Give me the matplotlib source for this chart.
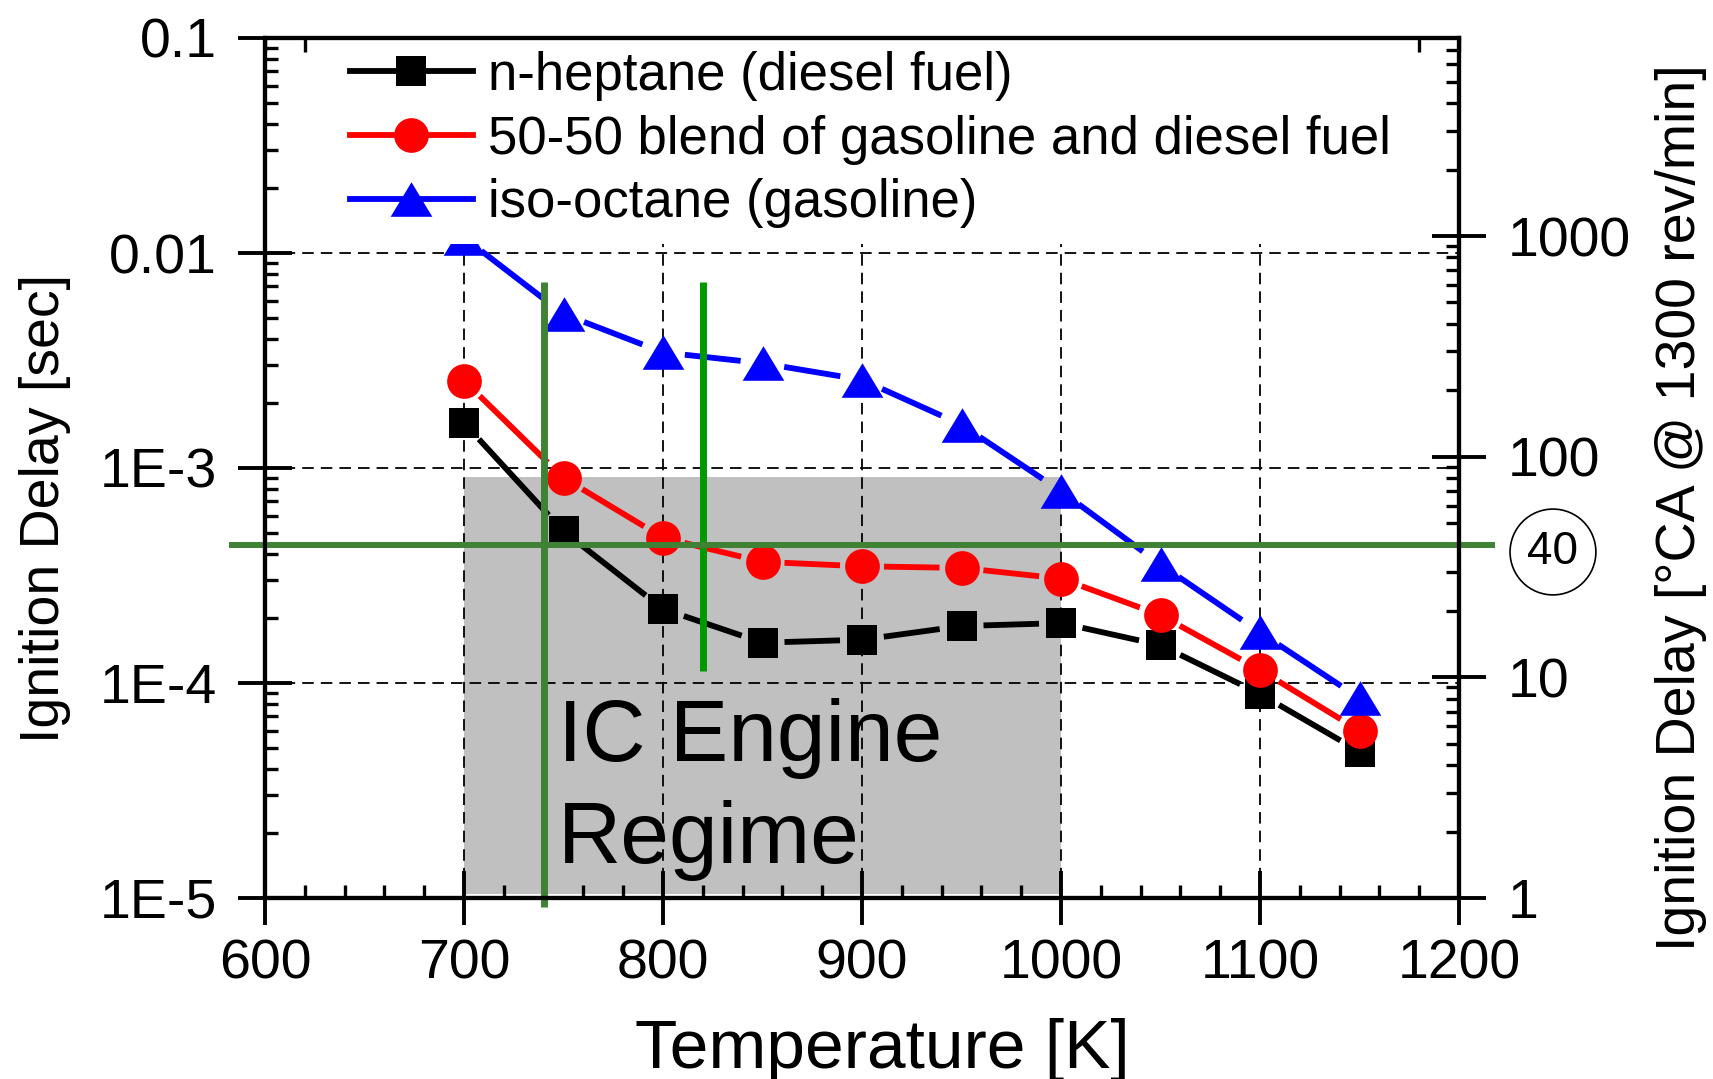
import numpy as np
import matplotlib
matplotlib.use('Agg')
from matplotlib import pyplot as plt
from matplotlib.lines import Line2D
from matplotlib.path import Path
from matplotlib.ticker import MultipleLocator, LogLocator, NullFormatter
from matplotlib.transforms import blended_transform_factory

plt.rcParams['font.family'] = ['Liberation Sans', 'DejaVu Sans']

# temperatures [K] and ignition delays [s]
temps = [700, 750, 800, 850, 900, 950, 1000, 1050, 1100, 1150]
heptane = [1.62e-3, 5.08e-4, 2.21e-4, 1.54e-4, 1.59e-4, 1.84e-4, 1.90e-4, 1.50e-4, 8.9e-5, 4.8e-5]
blend = [2.55e-3, 9.0e-4, 4.74e-4, 3.66e-4, 3.49e-4, 3.43e-4, 3.06e-4, 2.07e-4, 1.15e-4, 6.0e-5]
isooctane = [1.18e-2, 5.2e-3, 3.45e-3, 3.07e-3, 2.57e-3, 1.59e-3, 7.8e-4, 3.56e-4, 1.72e-4, 8.5e-5]
labels = ['n-heptane (diesel fuel)',
          '50-50 blend of gasoline and diesel fuel',
          'iso-octane (gasoline)']

# engine regime box and crank-angle limits
regime_t = [700, 1000]
regime_delay = [1.04e-5, 9.1e-4]
limit_ca = 40
limit_temps = [740, 820]
limit_lo = [9.1e-6, 1.14e-4]
limit_hi = [7.3e-3, 7.3e-3]

xticks = [600, 700, 800, 900, 1000, 1100, 1200]
yticks = [1e-5, 1e-4, 1e-3, 1e-2, 1e-1]
ylabels = ['1E-5', '1E-4', '1E-3', '0.01', '0.1']
caticks = [1, 10, 100, 1000]

W, H = 1713, 1079
fig = plt.figure(figsize=(W / 100, H / 100), dpi=100)
ax = fig.add_axes([265 / W, 1 - 898 / H, 1194 / W, 860 / H])
ax.set_yscale('log')
ax.set_xlim(600, 1200)
ax.set_ylim(1e-5, 1e-1)
ax.set_axisbelow(True)

ax.set_xticks(xticks)
ax.set_xticklabels([str(t) for t in xticks])
ax.xaxis.set_minor_locator(MultipleLocator(20))
ax.set_yticks(yticks)
ax.set_yticklabels(ylabels)
ax.yaxis.set_minor_locator(LogLocator(base=10, subs=np.arange(2, 10)))
ax.yaxis.set_minor_formatter(NullFormatter())

ax.tick_params(which='major', direction='inout', length=39, width=2.8,
               labelsize=40, top=False, right=False)
ax.tick_params(axis='x', which='major', pad=9.5)
ax.tick_params(axis='y', which='major', pad=15)
ax.tick_params(which='minor', direction='in', length=9.5, width=2.4,
               top=False, right=False)
for sp in ax.spines.values():
    sp.set_linewidth(3)
    sp.set_zorder(6)

ax.grid(which='major', color='black', ls=(0, (6.4, 3.9)), lw=1.3)

top = ax.secondary_xaxis('top')
top.xaxis.set_major_locator(MultipleLocator(100))
top.xaxis.set_minor_locator(MultipleLocator(20))
top.tick_params(which='both', direction='in', length=10, width=2.4,
                labeltop=False)

# shaded IC engine regime
ax.fill_between(regime_t, regime_delay[0], regime_delay[1],
                color='#c0c0c0', lw=0, zorder=0.2)
ax.text(747, 4.35e-5, 'IC Engine', fontsize=63, ha='left', va='baseline', zorder=3)
ax.text(747, 1.456e-5, 'Regime', fontsize=63, ha='left', va='baseline', zorder=3)

tri = Path([(0, 0.83), (-1, -0.83), (1, -0.83), (0, 0.83)],
           [Path.MOVETO, Path.LINETO, Path.LINETO, Path.CLOSEPOLY])

series = [
    (heptane, 'black', 's', 22.3),
    (blend, '#ff0000', 'o', 25),
    (isooctane, '#0000ff', tri, 30),
]
LW = 4.2


def gapped_line(xs, ys, color, gap=22):
    # connect the points with short gaps left around each marker
    pts = ax.transData.transform(np.column_stack([xs, ys]))
    inv = ax.transData.inverted()
    for p0, p1 in zip(pts[:-1], pts[1:]):
        d = p1 - p0
        u = d / np.hypot(*d)
        a = inv.transform(p0 + u * gap)
        b = inv.transform(p1 - u * gap)
        ax.plot([a[0], b[0]], [a[1], b[1]], color=color, lw=LW,
                solid_capstyle='butt', zorder=2)


handles = []
for vals, col, mk, ms in series:
    gapped_line(temps, vals, col)
    ax.plot(temps, vals, ls='none', marker=mk, ms=ms, color=col, mec=col,
            mew=0, zorder=2.2)
    handles.append(Line2D([], [], color=col, lw=LW, marker=mk, ms=ms, mew=0))

# crank-angle limit lines
ax.plot([limit_temps[0]] * 2, [limit_lo[0], limit_hi[0]], color='#3f8236',
        lw=5, zorder=4, clip_on=False, solid_capstyle='butt')
ax.plot([limit_temps[1]] * 2, [limit_lo[1], limit_hi[1]], color='#009900',
        lw=5, zorder=4, clip_on=False, solid_capstyle='butt')

leg = ax.legend(handles, labels, loc='upper left',
                bbox_to_anchor=(334 / W, 1 - 35 / H), bbox_transform=fig.transFigure,
                fontsize=38, frameon=True, fancybox=False, edgecolor='none',
                facecolor='white', framealpha=1, borderpad=0.3, borderaxespad=0,
                handlelength=2.33, handletextpad=0.28, labelspacing=0.26)
leg.set_zorder(5)

ax.set_xlabel('Temperature [K]', fontsize=50)
ax.xaxis.set_label_coords(0.5167, -0.1395)
ax.set_ylabel('Ignition Delay [sec]', fontsize=40)
ax.yaxis.set_label_coords(-0.1625, 0.4535)

# crank angle axis at 1300 rev/min
ax2 = ax.twinx()
ax2.set_yscale('log')
ax2.set_ylim(1, 7900)
ax2.set_yticks(caticks)
ax2.set_yticklabels([str(c) for c in caticks])
ax2.yaxis.set_minor_locator(LogLocator(base=10, subs=np.arange(2, 10)))
ax2.yaxis.set_minor_formatter(NullFormatter())
ax2.tick_params(which='major', direction='inout', length=39, width=2.8,
                labelsize=40, pad=15.5)
ax2.tick_params(which='minor', direction='in', length=9.5, width=2.4)
for sp in ax2.spines.values():
    sp.set_linewidth(3)
ax2.set_ylabel('Ignition Delay [°CA @ 1300 rev/min]', fontsize=40)
ax2.yaxis.set_label_coords(1.164, 0.4535)

ax2.plot([582, 1218], [limit_ca, limit_ca], color='#3f8236', lw=4.3,
         clip_on=False, solid_capstyle='butt')
ax2.text(1.0787, 37.0, str(limit_ca), fontsize=33, ha='center', va='center',
         transform=blended_transform_factory(ax2.transAxes, ax2.transData),
         bbox=dict(boxstyle='circle,pad=0.38', fc='none', ec='black', lw=1.2))

fig.savefig('out.png', dpi=100)
